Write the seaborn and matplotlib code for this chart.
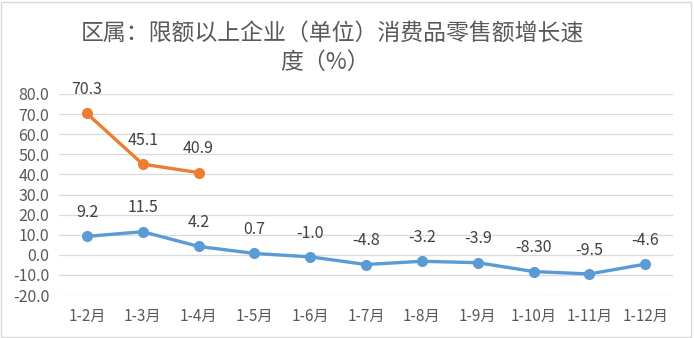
import matplotlib
matplotlib.use("Agg")
import matplotlib.pyplot as plt
import seaborn as sns
import pandas as pd
from matplotlib.patches import Rectangle

months = ["1-2月", "1-3月", "1-4月", "1-5月", "1-6月", "1-7月", "1-8月",
          "1-9月", "1-10月", "1-11月", "1-12月"]
growth_main = [9.2, 11.5, 4.2, 0.7, -1.0, -4.8, -3.2, -3.9, -8.30, -9.5, -4.6]
growth_main_labels = ["9.2", "11.5", "4.2", "0.7", "-1.0", "-4.8", "-3.2",
                      "-3.9", "-8.30", "-9.5", "-4.6"]
growth_early = [70.3, 45.1, 40.9]
growth_early_labels = ["70.3", "45.1", "40.9"]
y_ticks = [-20, -10, 0, 10, 20, 30, 40, 50, 60, 70, 80]

sns.set_theme(style="white")
plt.rcParams["font.family"] = ["Noto Sans CJK SC", "DejaVu Sans"]

blue = "#5B9BD5"
orange = "#ED7D31"

df = pd.concat([
    pd.DataFrame({"月份": months, "增速": growth_main, "系列": "A"}),
    pd.DataFrame({"月份": months[:3], "增速": growth_early, "系列": "B"}),
], ignore_index=True)

fig = plt.figure(figsize=(6.94, 3.38), dpi=100)
ax = fig.add_axes([0.085, 0.127, 0.885, 0.595])

sns.lineplot(data=df, x="月份", y="增速", hue="系列",
             palette={"A": blue, "B": orange}, marker="o", markersize=8,
             markeredgewidth=0, linewidth=2.4, sort=False, legend=False, ax=ax)

ax.set_xlim(-0.5, len(months) - 0.5)
ax.set_ylim(-20, 80)
ax.set_yticks(y_ticks)
ax.set_yticklabels([f"{v:.1f}" for v in y_ticks])
ax.set_xlabel("")
ax.set_ylabel("")
ax.grid(axis="y", color="#D9D9D9", linewidth=0.9)
ax.grid(axis="x", visible=False)
for s in ax.spines.values():
    s.set_visible(False)
ax.tick_params(axis="y", length=0, labelsize=11.5, colors="#595959", pad=7)
ax.tick_params(axis="x", length=0, labelsize=11, colors="#595959", pad=9)

for i, (v, t) in enumerate(zip(growth_main, growth_main_labels)):
    ax.annotate(t, (i, v), xytext=(0, 11), textcoords="offset points",
                ha="center", va="bottom", fontsize=11.5, color="#404040")
for i, (v, t) in enumerate(zip(growth_early, growth_early_labels)):
    ax.annotate(t, (i, v), xytext=(0, 11), textcoords="offset points",
                ha="center", va="bottom", fontsize=11.5, color="#404040")

fig.text(0.479, 0.899, "区属：限额以上企业（单位）消费品零售额增长速",
         ha="center", va="center", fontsize=16.5, color="#595959")
fig.text(0.468, 0.817, "度（%）", ha="center", va="center",
         fontsize=16.5, color="#595959")

fig.patches.append(Rectangle((0.002, 0.004), 0.994, 0.99, transform=fig.transFigure,
                             fill=False, edgecolor="#D9D9D9", linewidth=1))

fig.savefig("out.png", dpi=100)
